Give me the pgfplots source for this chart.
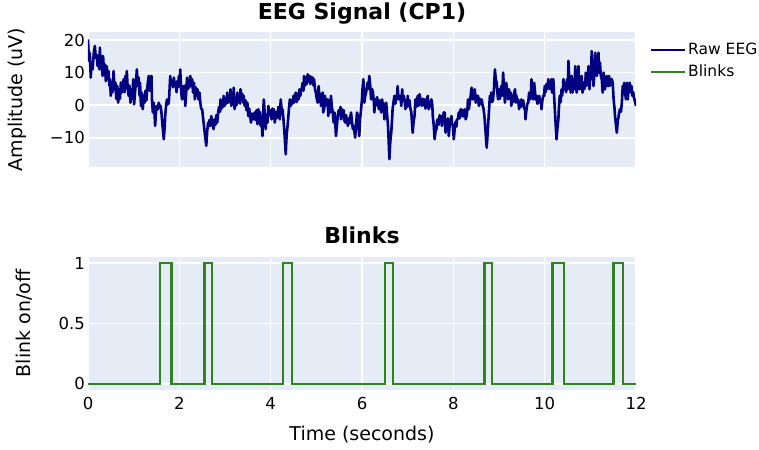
\documentclass[border=0pt]{standalone}
\usepackage{pgfplots}
\pgfplotsset{compat=1.18}
\usepackage{fontspec}
\setmainfont{DejaVu Sans}
\definecolor{bgc}{HTML}{E5ECF6}
\definecolor{eeg}{HTML}{000080}
\definecolor{blink}{RGB}{50,130,35}
\pgfplotsset{plotlybg/.style={
  scale only axis, width=548pt, xmin=0, xmax=12,
  axis background/.style={fill=bgc},
  axis line style={draw=none},
  major tick length=0pt,
  grid=major, grid style={white, line width=1.2pt},
  xtick={0,2,...,12},
  tick label style={font=\fontsize{16.5}{19}\selectfont},
  yticklabel style={anchor=east, inner sep=0pt, xshift=-3pt},
  title style={font=\bfseries\fontsize{22}{26}\selectfont, at={(axis description cs:0.5,1)}, anchor=base},
  label style={font=\fontsize{19}{23}\selectfont},
  extra y ticks={0}, extra y tick labels={},
  extra y tick style={grid style={white, line width=2.4pt}},
}}
\begin{document}
\begin{tikzpicture}
\useasboundingbox (-88pt,-282pt) rectangle (671pt,167pt);
\begin{axis}[plotlybg, at={(0pt,0pt)}, anchor=south west, height=135pt,
  ymin=-18.9, ymax=22.45, ytick={-10,0,10,20}, yticklabels={−10,0,10,20},
  xticklabels={},
  title={EEG Signal (CP1)}, title style={yshift=6pt},
  ylabel={Amplitude (uV)}, ylabel style={at={(axis description cs:-0.1287,0.5)}, anchor=center},
  legend style={at={(axis description cs:1,1)}, anchor=north west, xshift=14pt, yshift=-9pt,
    draw=none, fill=none, inner sep=0pt, row sep=5pt,
    font=\fontsize{15.5}{18}\selectfont},
  legend cell align=left,
  legend image code/.code={\draw[#1, line width=2pt] (0pt,0pt) -- (34pt,0pt);},
]
\addplot[eeg, line width=2.6pt, line join=round] coordinates {
(0.00,20.2)(0.02,13.6)(0.04,16.0)(0.06,8.5)(0.08,13.0)(0.10,11.0)(0.13,16.5)(0.15,18.2)(0.17,14.5)(0.19,15.5)
(0.21,12.0)(0.23,15.1)(0.25,11.0)(0.26,17.7)(0.28,12.0)(0.30,12.0)(0.32,9.0)(0.33,15.1)(0.35,10.5)(0.37,12.5)
(0.39,7.4)(0.41,12.0)(0.43,8.0)(0.45,10.5)(0.47,5.9)(0.48,8.0)(0.50,2.9)(0.52,6.9)(0.54,4.0)(0.56,10.5)
(0.58,5.0)(0.60,7.0)(0.62,2.0)(0.64,5.9)(0.66,0.8)(0.68,4.9)(0.70,2.0)(0.72,7.0)(0.74,3.9)(0.76,5.5)
(0.78,8.0)(0.80,4.0)(0.82,9.0)(0.84,6.0)(0.85,10.5)(0.87,5.0)(0.89,2.9)(0.91,6.0)(0.93,0.8)(0.95,4.5)
(0.97,2.0)(0.99,8.0)(1.01,0.3)(1.03,4.0)(1.05,7.0)(1.07,11.0)(1.09,6.0)(1.11,8.5)(1.13,2.9)(1.14,6.9)
(1.16,-0.2)(1.18,3.9)(1.20,-1.2)(1.22,2.9)(1.24,0.8)(1.26,4.5)(1.28,1.5)(1.29,3.9)(1.31,7.0)(1.33,9.0)
(1.35,4.5)(1.37,8.5)(1.39,9.0)(1.40,2.0)(1.42,-2.2)(1.44,0.8)(1.46,-3.3)(1.47,-6.3)(1.49,-2.0)(1.51,-0.2)
(1.53,-1.2)(1.55,0.8)(1.57,-0.5)(1.59,-0.2)(1.61,-2.5)(1.63,-6.0)(1.66,-10.4)(1.68,-6.5)(1.69,-3.3)(1.71,0.0)
(1.73,1.8)(1.75,0.3)(1.77,0.8)(1.79,6.0)(1.80,9.0)(1.82,6.5)(1.84,7.4)(1.86,5.5)(1.88,8.5)(1.90,5.9)
(1.92,7.0)(1.94,4.0)(1.95,7.4)(1.97,5.5)(1.99,9.0)(2.01,6.0)(2.02,11.0)(2.04,4.0)(2.06,1.8)(2.08,5.9)
(2.10,2.0)(2.12,6.0)(2.13,-0.2)(2.15,4.0)(2.17,8.5)(2.19,5.0)(2.21,7.4)(2.22,5.5)(2.24,9.0)(2.26,6.0)
(2.28,8.0)(2.30,3.9)(2.32,6.9)(2.34,1.8)(2.36,5.5)(2.38,2.9)(2.40,4.9)(2.42,1.8)(2.44,3.9)(2.46,0.8)
(2.48,-1.2)(2.50,-1.2)(2.52,-4.0)(2.54,-6.3)(2.56,-9.0)(2.59,-12.4)(2.61,-8.0)(2.63,-5.3)(2.64,-6.5)(2.66,-4.5)
(2.68,-6.3)(2.70,-3.3)(2.72,-5.5)(2.75,-7.3)(2.77,-4.3)(2.79,-6.0)(2.81,-3.0)(2.83,-5.3)(2.85,-2.2)(2.87,-0.5)
(2.89,-2.0)(2.90,1.8)(2.92,-1.2)(2.94,1.0)(2.96,-0.5)(2.97,2.9)(2.99,-0.2)(3.01,2.0)(3.03,0.5)(3.05,3.9)
(3.07,0.8)(3.09,3.0)(3.11,1.0)(3.12,4.9)(3.14,-0.2)(3.16,3.0)(3.18,1.0)(3.19,5.4)(3.21,-1.2)(3.23,2.0)
(3.25,0.0)(3.27,3.9)(3.29,1.0)(3.31,2.9)(3.33,0.5)(3.34,4.9)(3.36,1.8)(3.38,3.5)(3.40,0.8)(3.41,2.9)
(3.43,-0.2)(3.45,1.5)(3.47,-1.5)(3.49,0.8)(3.51,-3.3)(3.53,-1.0)(3.55,-3.3)(3.57,-5.3)(3.59,-2.5)(3.61,-4.0)
(3.63,-4.3)(3.65,-2.2)(3.67,-4.5)(3.69,-1.5)(3.71,-5.8)(3.73,-1.2)(3.75,-3.5)(3.76,-2.0)(3.78,-6.3)(3.80,-4.3)
(3.82,-9.4)(3.83,-3.3)(3.85,1.8)(3.87,-2.5)(3.89,-7.3)(3.91,-3.0)(3.93,-5.3)(3.95,-0.2)(3.97,-3.0)(3.99,-1.5)
(4.00,-2.2)(4.02,-4.3)(4.04,-1.0)(4.06,-3.0)(4.07,-1.2)(4.09,-5.3)(4.11,-2.0)(4.13,-4.0)(4.15,-2.8)(4.17,-0.5)
(4.19,-3.5)(4.20,-4.3)(4.22,1.8)(4.24,-1.2)(4.26,-1.2)(4.28,-4.3)(4.30,-8.0)(4.33,-15.0)(4.35,-9.0)(4.37,-6.3)
(4.39,-3.0)(4.40,-1.2)(4.42,1.8)(4.44,-0.2)(4.46,1.5)(4.48,0.5)(4.50,2.9)(4.51,0.8)(4.53,3.0)(4.55,3.9)
(4.57,1.0)(4.59,3.5)(4.61,1.8)(4.63,4.9)(4.65,2.9)(4.66,4.0)(4.68,5.0)(4.70,6.9)(4.72,4.5)(4.73,9.0)
(4.75,6.0)(4.77,8.5)(4.79,6.5)(4.81,9.5)(4.83,7.4)(4.85,9.0)(4.87,6.5)(4.88,8.8)(4.90,6.9)(4.92,8.5)
(4.94,6.0)(4.95,8.0)(4.97,5.0)(4.99,3.9)(5.01,2.0)(5.03,0.8)(5.05,5.9)(5.07,2.0)(5.09,3.5)(5.10,-0.2)
(5.12,1.8)(5.14,3.9)(5.15,-2.2)(5.17,-1.2)(5.19,2.9)(5.21,0.0)(5.23,1.5)(5.25,1.8)(5.26,-3.3)(5.28,-1.2)
(5.30,-2.2)(5.32,2.9)(5.34,-0.5)(5.36,-2.2)(5.38,-5.3)(5.40,-2.2)(5.43,-9.4)(5.45,-6.3)(5.47,-3.3)(5.49,-1.5)
(5.51,-3.0)(5.53,-0.5)(5.54,-4.3)(5.56,-1.2)(5.58,-3.5)(5.60,-1.5)(5.61,-4.3)(5.63,-5.3)(5.65,-3.0)(5.67,-4.5)
(5.69,-6.3)(5.71,-4.0)(5.73,-5.5)(5.75,-3.0)(5.76,-2.2)(5.78,-5.0)(5.80,-7.3)(5.82,-6.3)(5.85,-9.9)(5.87,-6.0)
(5.89,-2.2)(5.91,-3.3)(5.92,-6.0)(5.94,-9.4)(5.96,-4.0)(5.98,-1.2)(6.00,2.0)(6.01,4.9)(6.03,8.0)(6.05,0.8)
(6.07,2.9)(6.09,3.9)(6.11,5.9)(6.12,6.9)(6.14,5.0)(6.16,9.0)(6.18,5.9)(6.20,1.8)(6.22,5.0)(6.24,3.9)
(6.26,1.0)(6.27,-2.2)(6.29,1.8)(6.31,0.0)(6.33,2.5)(6.35,0.8)(6.37,-1.2)(6.39,1.5)(6.41,-1.0)(6.42,-2.2)
(6.44,1.8)(6.46,-0.5)(6.48,0.5)(6.49,-4.3)(6.51,-1.0)(6.53,0.8)(6.55,-3.0)(6.57,-6.3)(6.60,-16.5)(6.62,-11.0)
(6.64,-8.4)(6.66,-4.0)(6.67,-1.2)(6.69,1.0)(6.71,2.9)(6.73,0.5)(6.75,1.8)(6.77,3.5)(6.78,5.9)(6.80,2.0)
(6.82,1.8)(6.84,2.9)(6.86,-0.2)(6.88,4.9)(6.89,1.5)(6.91,3.0)(6.93,1.8)(6.95,-1.2)(6.97,1.0)(6.99,-0.5)
(7.00,2.9)(7.02,0.5)(7.04,1.5)(7.06,-1.0)(7.08,-2.2)(7.09,-4.3)(7.11,-8.4)(7.13,-5.0)(7.15,-3.3)(7.17,1.8)
(7.19,-0.5)(7.20,1.0)(7.22,2.9)(7.24,-0.2)(7.26,3.4)(7.28,1.8)(7.30,1.8)(7.31,-0.2)(7.33,2.0)(7.35,0.0)
(7.37,1.8)(7.39,-1.0)(7.41,-0.2)(7.42,1.8)(7.44,2.9)(7.46,-1.2)(7.48,1.0)(7.50,-0.5)(7.52,1.8)(7.54,0.0)
(7.55,-3.3)(7.57,-6.0)(7.59,-10.4)(7.61,-8.0)(7.63,-7.3)(7.64,-5.0)(7.66,-4.3)(7.68,-6.0)(7.70,-3.0)(7.72,-5.0)
(7.74,-3.3)(7.75,-6.3)(7.77,-4.0)(7.79,-2.2)(7.81,-2.2)(7.83,-8.4)(7.85,-5.0)(7.86,-6.3)(7.88,-4.0)(7.90,-9.4)
(7.92,-6.0)(7.94,-4.5)(7.96,-3.3)(7.97,-5.5)(7.99,-6.3)(8.01,-10.4)(8.03,-7.3)(8.05,-5.0)(8.07,-6.5)(8.08,-4.3)
(8.10,-4.3)(8.12,-2.2)(8.14,-4.0)(8.16,-1.2)(8.17,-1.2)(8.19,-3.3)(8.21,-1.5)(8.23,-3.5)(8.25,-1.2)(8.27,-4.3)
(8.29,-3.3)(8.31,-1.0)(8.32,1.8)(8.34,-1.2)(8.36,1.0)(8.38,3.0)(8.40,5.4)(8.42,2.0)(8.43,1.8)(8.45,3.5)
(8.47,4.9)(8.49,0.8)(8.51,3.0)(8.53,1.0)(8.54,2.9)(8.56,-0.2)(8.58,2.0)(8.60,0.5)(8.62,1.8)(8.64,0.0)
(8.66,-1.0)(8.68,-3.3)(8.70,-7.0)(8.73,-13.0)(8.75,-9.0)(8.76,-6.3)(8.78,-2.0)(8.80,2.9)(8.82,1.8)(8.83,3.9)
(8.85,1.0)(8.87,1.8)(8.89,5.0)(8.91,11.0)(8.93,8.0)(8.95,6.9)(8.97,3.0)(8.98,1.8)(9.00,4.9)(9.02,2.0)
(9.04,3.9)(9.05,5.9)(9.07,3.0)(9.09,10.0)(9.11,5.0)(9.13,0.8)(9.14,3.0)(9.16,6.9)(9.18,3.5)(9.20,1.8)
(9.22,4.9)(9.24,2.0)(9.26,3.9)(9.27,-0.2)(9.29,2.5)(9.31,1.0)(9.33,3.5)(9.35,4.9)(9.37,0.8)(9.38,3.0)
(9.40,1.0)(9.42,1.8)(9.44,-1.2)(9.46,1.0)(9.48,-0.5)(9.49,1.8)(9.51,-0.2)(9.53,1.5)(9.55,-1.0)(9.57,-1.2)
(9.58,-4.3)(9.60,-1.5)(9.62,0.5)(9.64,0.8)(9.66,3.9)(9.68,1.8)(9.70,4.0)(9.71,8.0)(9.73,3.0)(9.75,1.8)
(9.77,6.9)(9.79,3.9)(9.80,1.8)(9.82,3.0)(9.84,0.5)(9.86,0.8)(9.88,2.9)(9.90,1.0)(9.92,1.8)(9.93,-1.2)
(9.95,1.5)(9.97,3.0)(9.99,2.9)(10.00,5.9)(10.02,4.0)(10.04,6.5)(10.06,5.0)(10.08,8.0)(10.09,6.9)(10.11,5.0)
(10.13,7.0)(10.15,8.0)(10.16,3.9)(10.18,6.0)(10.19,8.0)(10.21,2.0)(10.23,-3.3)(10.26,-10.4)(10.28,-7.0)(10.30,-4.3)
(10.31,-1.2)(10.33,2.9)(10.35,1.0)(10.37,4.9)(10.38,2.9)(10.40,5.0)(10.41,8.0)(10.43,5.0)(10.45,6.9)(10.47,4.0)
(10.49,8.0)(10.51,5.0)(10.52,13.6)(10.54,8.0)(10.56,5.9)(10.57,3.9)(10.59,9.0)(10.61,3.9)(10.63,7.0)(10.65,5.0)
(10.67,12.0)(10.69,6.0)(10.70,3.9)(10.72,6.9)(10.74,12.0)(10.76,4.9)(10.78,8.0)(10.80,5.0)(10.81,9.0)(10.83,3.9)
(10.85,7.0)(10.87,5.0)(10.89,6.9)(10.90,10.0)(10.92,6.0)(10.94,8.0)(10.96,12.0)(10.98,4.9)(11.00,9.0)(11.01,8.0)
(11.03,16.6)(11.05,12.0)(11.07,5.9)(11.09,10.0)(11.11,16.1)(11.12,12.0)(11.14,9.0)(11.16,12.0)(11.18,16.1)(11.19,10.0)
(11.21,13.1)(11.23,9.0)(11.25,8.0)(11.27,3.9)(11.29,10.0)(11.30,7.0)(11.32,4.9)(11.34,7.0)(11.36,9.0)(11.38,6.0)
(11.40,5.9)(11.41,9.0)(11.43,6.0)(11.45,8.0)(11.47,8.0)(11.49,6.9)(11.51,1.8)(11.53,-1.0)(11.54,-3.3)(11.58,-8.4)
(11.60,-5.0)(11.62,-3.3)(11.63,-2.2)(11.65,-1.2)(11.67,-2.0)(11.69,0.8)(11.71,5.9)(11.73,3.9)(11.74,6.9)(11.76,3.9)
(11.78,1.8)(11.80,6.9)(11.82,1.8)(11.84,5.9)(11.86,6.9)(11.88,4.0)(11.90,5.9)(11.92,2.9)(11.94,4.0)(11.95,2.9)
(11.97,1.5)(12.00,-0.2)
};
\addlegendentry{Raw EEG}
\addlegendimage{blink, line width=2pt}
\addlegendentry{Blinks}
\end{axis}
\begin{axis}[plotlybg, at={(0pt,-223pt)}, anchor=south west, height=133pt,
  ymin=-0.05, ymax=1.05, ytick={0,0.5,1}, yticklabels={0,0.5,1},
  xticklabels={0,2,4,6,8,10,12},
  xticklabel style={anchor=center, yshift=-13.5pt},
  title={Blinks}, title style={yshift=7pt},
  ylabel={Blink on/off}, ylabel style={at={(axis description cs:-0.1168,0.5)}, anchor=center},
  xlabel={Time (seconds)}, xlabel style={at={(axis description cs:0.5,-0.338)}, anchor=center},
]
\addplot[blink, line width=2.3pt, line join=miter] coordinates {
(0,0)(1.58,0)(1.58,1)(1.83,1)(1.83,0)
(2.55,0)(2.55,1)(2.71,1)(2.71,0)
(4.27,0)(4.27,1)(4.46,1)(4.46,0)
(6.51,0)(6.51,1)(6.68,1)(6.68,0)
(8.68,0)(8.68,1)(8.85,1)(8.85,0)
(10.17,0)(10.17,1)(10.42,1)(10.42,0)
(11.51,0)(11.51,1)(11.71,1)(11.71,0)
(12,0)
};
\end{axis}
\end{tikzpicture}
\end{document}
